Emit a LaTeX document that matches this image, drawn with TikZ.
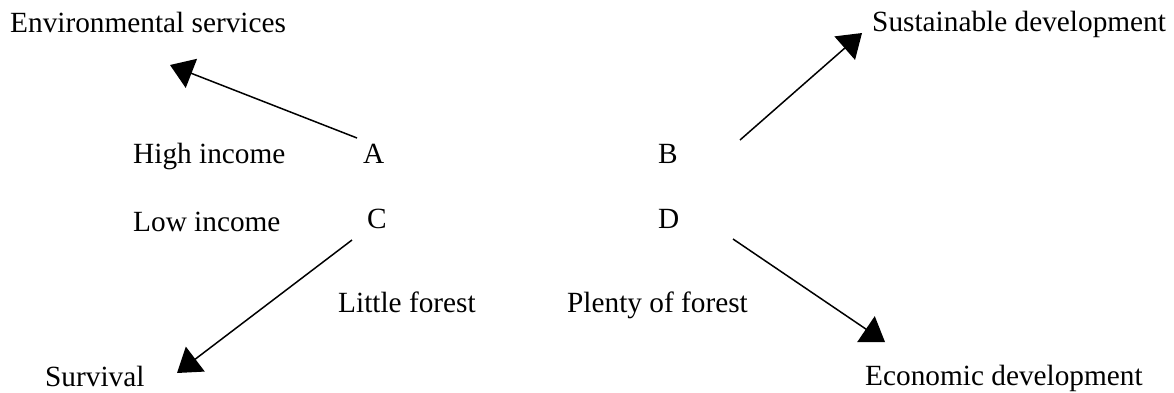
\documentclass[tikz,border=0pt]{standalone}
\usepackage{fontspec}
\setmainfont{Liberation Serif}
\usetikzlibrary{arrows.meta}
\begin{document}
\begin{tikzpicture}[x=1pt,y=-1pt,
  lbl/.style={anchor=base west,inner sep=0pt,font=\fontsize{29.3}{32}\selectfont},
  arr/.style={line width=1.5pt,-{Triangle[length=23pt,width=31pt]}}]
\useasboundingbox (0,0) rectangle (1174,392);
\node[lbl] (env) at (10,32) {Environmental services};
\node[lbl] (sus) at (872,31) {Sustainable development};
\node[lbl] (hi) at (133,163) {High income};
\node[lbl] (A) at (363,163) {A};
\node[lbl] (B) at (658,163) {B};
\node[lbl] (lo) at (133,231) {Low income};
\node[lbl] (C) at (367,228) {C};
\node[lbl] (D) at (658,228) {D};
\node[lbl] (lit) at (338,312) {Little forest};
\node[lbl] (plf) at (567,312) {Plenty of forest};
\node[lbl] (surv) at (45,386) {Survival};
\node[lbl] (eco) at (865,385) {Economic development};
\coordinate (aS) at (357,138);
\coordinate (aE) at (170,65);
\coordinate (bS) at (740,140);
\coordinate (bE) at (862,33);
\coordinate (cS) at (352,240);
\coordinate (cE) at (177,373);
\coordinate (dS) at (733,239);
\coordinate (dE) at (885,342);
\draw[arr] (aS) -- (aE);
\draw[arr] (bS) -- (bE);
\draw[arr] (cS) -- (cE);
\draw[arr] (dS) -- (dE);
\end{tikzpicture}
\end{document}
